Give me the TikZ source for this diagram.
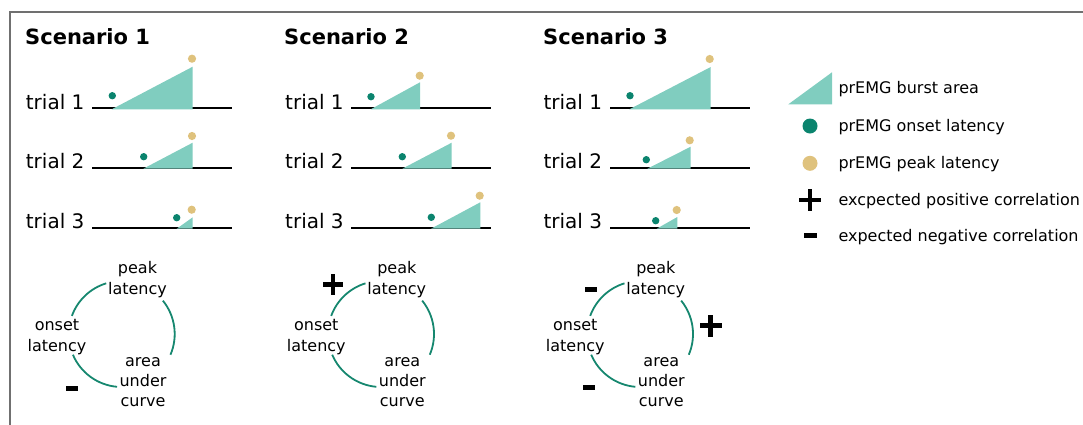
\documentclass[tikz,border=0pt]{standalone}
\usepackage{fontspec}
\setmainfont{DejaVu Sans}
\definecolor{areafill}{HTML}{80CDBF}
\definecolor{onsetc}{HTML}{0B846E}
\definecolor{peakc}{HTML}{DFC27D}
\definecolor{arcc}{HTML}{16876F}
\definecolor{framec}{HTML}{707070}
\tikzset{
  trialtxt/.style={anchor=base west, font=\fontsize{20}{24}\selectfont, inner sep=0pt},
  titletxt/.style={anchor=base west, font=\fontsize{21}{25}\selectfont\bfseries, inner sep=0pt},
  lbl/.style={anchor=base, font=\fontsize{16}{20.3}\selectfont, align=center, inner sep=0pt},
  legtxt/.style={anchor=base west, font=\fontsize{16}{20}\selectfont, inner sep=0pt},
  baseln/.style={line width=2pt},
  burst/.style={fill=areafill},
  onsetdot/.style={fill=onsetc},
  peakdot/.style={fill=peakc},
  corr/.style={draw=arcc, line width=1.8pt},
  signfill/.style={fill=black},
  framestyle/.style={draw=framec, line width=1.3pt},
}
\newcommand\plusmark[3]{% x, y, size
  \fill[signfill] (#1-#3/2,#2-2.35) rectangle (#1+#3/2,#2+2.35);
  \fill[signfill] (#1-2.35,#2-#3/2) rectangle (#1+2.35,#2+#3/2);}
\newcommand\minusmark[3]{% x, y, width
  \fill[signfill] (#1-#3/2,#2-2.5) rectangle (#1+#3/2,#2+2.5);}
\begin{document}
\begin{tikzpicture}[x=1pt,y=-1pt]
\useasboundingbox (0,0) rectangle (1083,424);
\draw[framestyle] (10,430) -- (10,12) -- (1090,12);

% titles
\node[titletxt] (t1) at (25,44.5) {Scenario 1};
\node[titletxt] (t2) at (284,44.5) {Scenario 2};
\node[titletxt] (t3) at (543,44.5) {Scenario 3};

% trial labels
\foreach \sx/\sc in {25.7/1,285/2,543.3/3}{
  \node[trialtxt] (s\sc r1) at (\sx,109.3) {trial 1};
  \node[trialtxt] (s\sc r2) at (\sx,168.7) {trial 2};
  \node[trialtxt] (s\sc r3) at (\sx,228.7) {trial 3};
}

% base lines, bursts, dots
% format: linex1/linex2/liney/left/right/top/ox/oy/px/py
\foreach \la/\lb/\ly/\tl/\tr/\tt/\ox/\oy/\px/\py in {
  92/231.7/108.3/111.7/192.7/66.7/112.3/95.7/192/58.7,
  92/231.7/167.7/143.3/192.7/142.7/143.7/156.7/192/136,
  92/231.7/227.7/176.7/192.7/217.3/176.7/217.7/191.7/209.7,
  351/490.7/108.3/370.7/420/82.3/371/96.7/419.7/75.7,
  351/490.7/167.7/402.3/451.7/142.7/402.3/156.7/451/135.7,
  351/490.7/227.7/431/480.3/202.3/431.3/217.3/479.7/195.7,
  610/750/108.3/629.3/710.7/67/630/95.7/709.7/59,
  610/750/167.7/647.3/690.7/146.7/646.3/159.7/689.7/140.3,
  610/750/227.7/656.7/677.3/217/655.7/220.7/676.7/210}{
  \draw[baseln] (\la,\ly) -- (\lb,\ly);
  \fill[burst] (\tl,\ly+1) -- (\tr,\ly+1) -- (\tr,\tt) -- cycle;
  \fill[onsetdot] (\ox,\oy) circle (3.7pt);
  \fill[peakdot] (\px,\py) circle (4.1pt);
}

% correlation circles
\foreach \cx/\sc in {121.7/1,381/2,640/3}{
  \coordinate (c\sc) at (\cx,334);
  \draw[corr] (c\sc) ++(107:53pt) arc[start angle=107, end angle=160, radius=53pt];
  \draw[corr] (c\sc) ++(203:53pt) arc[start angle=203, end angle=265, radius=53pt];
  \draw[corr] (c\sc) ++(-23:53pt) arc[start angle=-23, end angle=39, radius=53pt];
  \node[lbl] (pk\sc) at (\cx+15.8,294) {peak\\latency};
  \node[lbl] (on\sc) at (\cx-64.7,351) {onset\\latency};
  \node[lbl] (ar\sc) at (\cx+21.3,406.7) {area\\under\\curve};
}

% signs
\minusmark{72}{388.2}{12}
\plusmark{333}{284.7}{20.7}
\minusmark{591.2}{289.5}{12}
\minusmark{589.3}{387.8}{12}
\plusmark{710.8}{325.8}{21.7}

% legend
\fill[burst] (788.3,104.3) -- (832,104.3) -- (832,72.3) -- cycle;
\fill[onsetdot] (810,126) circle (7.5pt);
\fill[peakdot] (810,163.3) circle (7.5pt);
\plusmark{810}{200}{22}
\minusmark{810}{235.7}{13}
\node[legtxt] (l1) at (838.3,93.3) {prEMG burst area};
\node[legtxt] (l2) at (838.3,131.7) {prEMG onset latency};
\node[legtxt] (l3) at (838.3,168.3) {prEMG peak latency};
\node[legtxt] (l4) at (838.3,205) {excpected positive correlation};
\node[legtxt] (l5) at (838.3,241) {expected negative correlation};
\end{tikzpicture}
\end{document}
